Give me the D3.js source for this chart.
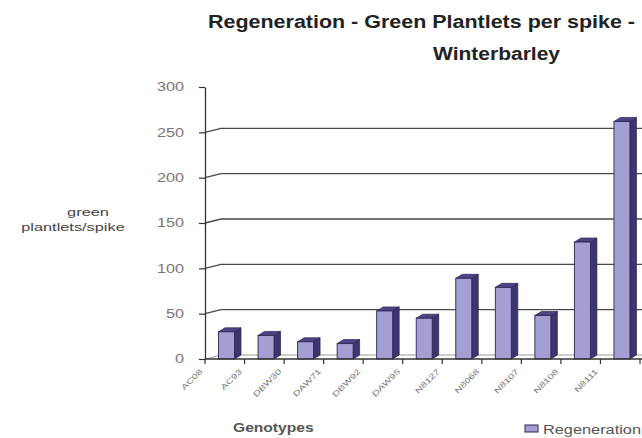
<!DOCTYPE html>
<html>
<head>
<meta charset="utf-8">
<script src="https://cdn.jsdelivr.net/npm/d3@7"></script>
<style>
  html, body { margin: 0; padding: 0; background: #fff; overflow: hidden; }
  svg { display: block; font-family: "Liberation Sans", Arial, sans-serif; }
</style>
</head>
<body>
<svg id="chart" width="642" height="438"></svg>
<script>
// Genotypes and green plantlets per spike
const categories = ["AC08", "AC93", "DBW30", "DAW71", "DBW92", "DAW95", "N8127", "N8068", "N8107", "N8108", "N8111"];
const regeneration = [30, 26, 19, 17, 53, 45, 89, 79, 48, 129, 262];
const yTicks = [0, 50, 100, 150, 200, 250, 300];

const titleLines = ["Regeneration - Green Plantlets per spike -", "Winterbarley"];
const yTitleLines = ["green", "plantlets/spike"];
const xTitle = "Genotypes";
const seriesName = "Regeneration";

const svg = d3.select("#chart");

// plot frame
const plotLeft = 205, plotRight = 640, plotBottom = 359, plotTop = 87;
const wallDx = 16, wallDy = -4;      // depth of back wall
const barDx = 6.5, barDy = -4;       // depth of each column
const barOffset = 13.5, barWidth = 16;

const x = d3.scaleBand().domain(categories).range([plotLeft, plotRight]).paddingInner(0).paddingOuter(0);
const y = d3.scaleLinear().domain([0, 300]).range([plotBottom, plotTop]);

const colFront = "#a49fd2", colSide = "#3b3570", colTop = "#4b4585", colEdge = "#2a2452";

// widen glyphs horizontally to the given factor
function stretch(sel, k) {
  sel.each(function () {
    const w = this.getComputedTextLength();
    this.setAttribute("textLength", w * k);
    this.setAttribute("lengthAdjust", "spacingAndGlyphs");
  });
}

// back-wall gridlines with their receding corner segment
svg.append("g").selectAll("path")
  .data(yTicks.filter(t => t > 0 && t < 300))
  .join("path")
  .attr("d", t => `M${plotLeft},${y(t)}L${plotLeft + wallDx},${y(t) + wallDy}L642,${y(t) + wallDy}`)
  .attr("fill", "none")
  .attr("stroke", "#4a4a4a")
  .attr("stroke-width", 1.4);

// floor back edge
svg.append("path")
  .attr("d", `M${plotLeft},${y(0)}L${plotLeft + wallDx},${y(0) + wallDy}L642,${y(0) + wallDy}`)
  .attr("fill", "none").attr("stroke", "#9a9a9a").attr("stroke-width", 1);

// columns
const bars = svg.append("g").selectAll("g")
  .data(categories.map((c, i) => ({ c, v: regeneration[i] })))
  .join("g");

bars.append("path") // right side
  .attr("d", d => {
    const x1 = x(d.c) + barOffset + barWidth, yt = y(d.v), yb = y(0);
    return `M${x1},${yt}L${x1 + barDx},${yt + barDy}L${x1 + barDx},${yb + barDy}L${x1},${yb}Z`;
  })
  .attr("fill", colSide).attr("stroke", colEdge).attr("stroke-width", 0.7);

bars.append("path") // top
  .attr("d", d => {
    const x0 = x(d.c) + barOffset, yt = y(d.v);
    return `M${x0},${yt}L${x0 + barDx},${yt + barDy}L${x0 + barWidth + barDx},${yt + barDy}L${x0 + barWidth},${yt}Z`;
  })
  .attr("fill", colTop).attr("stroke", colEdge).attr("stroke-width", 0.7);

bars.append("rect") // front
  .attr("x", d => x(d.c) + barOffset)
  .attr("y", d => y(d.v))
  .attr("width", barWidth)
  .attr("height", d => y(0) - y(d.v))
  .attr("fill", colFront).attr("stroke", colEdge).attr("stroke-width", 0.9);

// value axis
const yAxis = svg.append("g")
  .attr("transform", `translate(${plotLeft},0)`)
  .call(d3.axisLeft(y).tickValues(yTicks).tickSize(6).tickSizeOuter(0).tickPadding(15));
yAxis.select(".domain").attr("stroke", "#333").attr("stroke-width", 1.3);
yAxis.selectAll(".tick line").attr("stroke", "#333").attr("stroke-width", 1.2);
yAxis.selectAll(".tick text")
  .attr("fill", "#7d7277")
  .style("font-size", "12px")
  .style("font-family", "'Liberation Sans', Arial, sans-serif")
  .call(stretch, 1.35);

// category axis line and boundary ticks
svg.append("line")
  .attr("x1", plotLeft).attr("x2", 642).attr("y1", y(0)).attr("y2", y(0))
  .attr("stroke", "#333").attr("stroke-width", 1.3);
svg.append("g").selectAll("line")
  .data(categories.map(c => x(c)).concat([x(categories[categories.length - 1]) + x.step()]))
  .join("line")
  .attr("x1", d => d).attr("x2", d => d)
  .attr("y1", y(0)).attr("y2", y(0) + 5)
  .attr("stroke", "#333").attr("stroke-width", 1.2);

// rotated category labels
svg.append("g").selectAll("text")
  .data(categories)
  .join("text")
  .attr("transform", c => `translate(${x(c) + x.bandwidth() / 2 - 22},${y(0) + 13}) rotate(-45)`)
  .attr("text-anchor", "end")
  .attr("fill", "#777")
  .style("font-size", "7.5px")
  .text(c => c)
  .call(stretch, 1.4);

// title
svg.append("text")
  .attr("x", 421.5).attr("y", 28)
  .attr("text-anchor", "middle")
  .attr("fill", "#222")
  .style("font-size", "18px").style("font-weight", "bold")
  .attr("textLength", 427).attr("lengthAdjust", "spacingAndGlyphs")
  .text(titleLines[0]);
svg.append("text")
  .attr("x", 496.5).attr("y", 60)
  .attr("text-anchor", "middle")
  .attr("fill", "#222")
  .style("font-size", "18px").style("font-weight", "bold")
  .attr("textLength", 127).attr("lengthAdjust", "spacingAndGlyphs")
  .text(titleLines[1]);

// value axis title
svg.append("g").selectAll("text")
  .data(yTitleLines)
  .join("text")
  .attr("x", (d, i) => i === 0 ? 88 : 73)
  .attr("y", (d, i) => 216 + i * 15)
  .attr("text-anchor", "middle")
  .attr("fill", "#444")
  .style("font-size", "11.5px")
  .text(d => d)
  .call(stretch, 1.42);

// category axis title
svg.append("text")
  .attr("x", 233).attr("y", 432)
  .attr("fill", "#555")
  .style("font-size", "12px").style("font-weight", "bold")
  .text(xTitle)
  .call(stretch, 1.3);

// legend
svg.append("rect")
  .attr("x", 525).attr("y", 425).attr("width", 13).attr("height", 7)
  .attr("fill", colFront).attr("stroke", colEdge).attr("stroke-width", 1);
svg.append("text")
  .attr("x", 543).attr("y", 434)
  .attr("fill", "#555")
  .style("font-size", "12px")
  .text(seriesName)
  .call(stretch, 1.36);
</script>
</body>
</html>
